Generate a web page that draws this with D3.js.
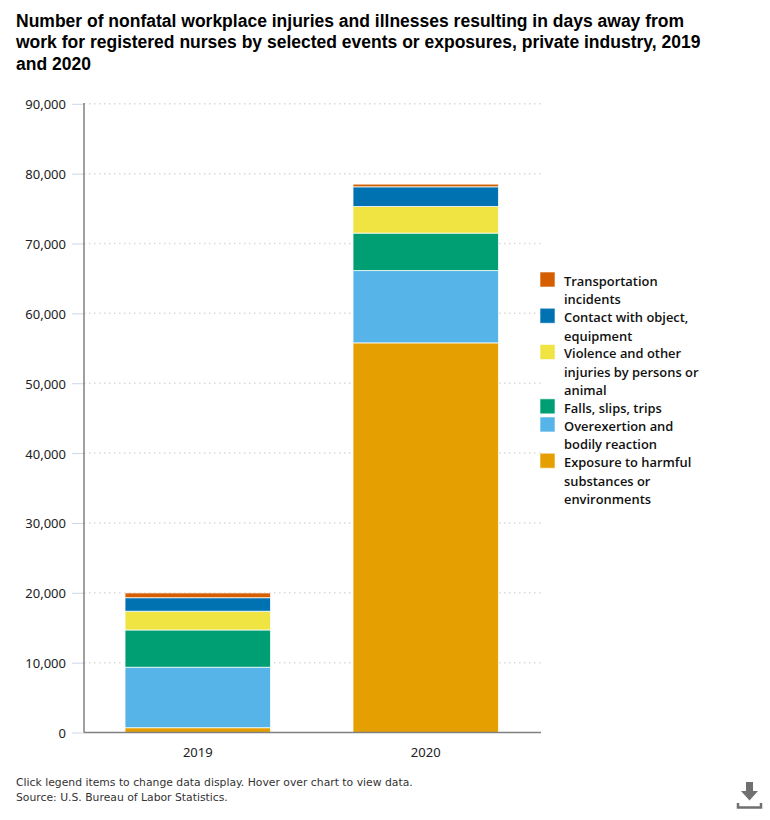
<!DOCTYPE html>
<html>
<head>
<meta charset="utf-8">
<script src="https://cdn.jsdelivr.net/npm/d3@7"></script>
<style>
  html, body { margin: 0; padding: 0; background: #fff; }
  svg { display: block; }
</style>
</head>
<body>
<div id="chart"></div>
<script>
// Dati
const years = ['2019', '2020'];
const seriesNames = [
  'Exposure to harmful substances or environments',
  'Overexertion and bodily reaction',
  'Falls, slips, trips',
  'Violence and other injuries by persons or animal',
  'Contact with object, equipment',
  'Transportation incidents'
];
const exposure = [690, 55780];
const overexertion = [8650, 10350];
const falls = [5340, 5360];
const violence = [2680, 3810];
const contact = [1940, 2820];
const transportation = [680, 380];
const seriesColors = ['#E69F00', '#56B4E9', '#009E73', '#F0E442', '#0072B2', '#D55E00'];
const yTicks = [0, 10000, 20000, 30000, 40000, 50000, 60000, 70000, 80000, 90000];
const titleLines = [
  'Number of nonfatal workplace injuries and illnesses resulting in days away from',
  'work for registered nurses by selected events or exposures, private industry, 2019',
  'and 2020'
];
const footerLines = [
  'Click legend items to change data display. Hover over chart to view data.',
  'Source: U.S. Bureau of Labor Statistics.'
];
// Righe della legenda, dall'alto in basso
const legendLines = [
  ['Transportation', 'incidents'],
  ['Contact with object,', 'equipment'],
  ['Violence and other', 'injuries by persons or', 'animal'],
  ['Falls, slips, trips'],
  ['Overexertion and', 'bodily reaction'],
  ['Exposure to harmful', 'substances or', 'environments']
];

const width = 770, height = 820;
const margin = { top: 103.8, left: 84, right: 229, bottom: 87.5 };
const w = width - margin.left - margin.right;
const h = height - margin.top - margin.bottom;

const svg = d3.select('#chart').append('svg')
  .attr('width', width)
  .attr('height', height);

// Titolo
svg.append('g').selectAll('text')
  .data(titleLines).join('text')
  .attr('x', 16)
  .attr('y', (d, i) => 27 + i * 21.3)
  .attr('fill', '#000')
  .style('font-family', '"Liberation Sans", Arial, sans-serif')
  .style('font-size', '17.5px')
  .style('font-weight', 'bold')
  .text(d => d);

const g = svg.append('g').attr('transform', `translate(${margin.left},${margin.top})`);

// Scale
const x = d3.scaleBand().domain(years).range([0, 455.5]).paddingInner(0.362).paddingOuter(0.18);
const y = d3.scaleLinear().domain([0, 90000]).range([h, 0]);

// Griglia
g.append('g')
  .selectAll('line')
  .data(yTicks.filter(d => d > 0)).join('line')
  .attr('x1', 0).attr('x2', w)
  .attr('y1', d => y(d)).attr('y2', d => y(d))
  .attr('stroke', '#d9d9d9')
  .attr('stroke-width', 1.5)
  .attr('stroke-dasharray', '1.5,3.5');

// Barre impilate
const rows = years.map((year, i) => ({
  year,
  [seriesNames[0]]: exposure[i],
  [seriesNames[1]]: overexertion[i],
  [seriesNames[2]]: falls[i],
  [seriesNames[3]]: violence[i],
  [seriesNames[4]]: contact[i],
  [seriesNames[5]]: transportation[i]
}));
const stacked = d3.stack().keys(seriesNames)(rows);

g.append('g')
  .selectAll('g')
  .data(stacked).join('g')
  .attr('fill', (d, i) => seriesColors[i])
  .selectAll('rect')
  .data(d => d).join('rect')
  .attr('x', d => x(d.data.year))
  .attr('y', d => y(d[1]))
  .attr('width', x.bandwidth())
  .attr('height', d => y(d[0]) - y(d[1]))
  .attr('stroke', '#fff')
  .attr('stroke-opacity', 0.75)
  .attr('stroke-width', 1);

// Asse Y
const yAxis = g.append('g')
  .call(d3.axisLeft(y).tickValues(yTicks).tickFormat(d3.format(',')).tickSize(12).tickPadding(6));
yAxis.select('.domain').remove();
yAxis.selectAll('line').attr('stroke', '#ccd6eb').attr('stroke-width', 1);
yAxis.selectAll('text')
  .attr('fill', '#222')
  .attr('dy', '0.38em')
  .style('font-family', '"Noto Sans", sans-serif')
  .style('font-size', '13px');
g.append('line')
  .attr('x1', 0).attr('x2', 0).attr('y1', -0.8).attr('y2', h)
  .attr('stroke', '#808080').attr('stroke-width', 1.5);

// Asse X
const xAxis = g.append('g')
  .attr('transform', `translate(0,${h})`)
  .call(d3.axisBottom(x).tickSize(0).tickPadding(15));
xAxis.select('.domain').attr('d', `M0,0H${w}`).attr('stroke', '#808080').attr('stroke-width', 1.5);
xAxis.selectAll('text')
  .attr('fill', '#222')
  .style('font-family', '"Noto Sans", sans-serif')
  .style('font-size', '13px');

// Legenda
const legendColors = seriesColors.slice().reverse();
const textLineHeight = 18.4;
const itemLineHeight = 18.12;
let legendY = 272;
legendLines.forEach((lines, i) => {
  const item = svg.append('g').attr('transform', `translate(540,${legendY})`);
  item.append('rect')
    .attr('width', 15).attr('height', 15)
    .attr('fill', legendColors[i])
    .attr('stroke', '#fff').attr('stroke-opacity', 0.6);
  item.selectAll('text')
    .data(lines).join('text')
    .attr('x', 24)
    .attr('y', (d, j) => 14 + j * textLineHeight)
    .attr('fill', '#111')
    .style('font-family', '"Open Sans", sans-serif')
    .style('font-size', '12.9px')
    .style('font-weight', 600)
    .text(d => d);
  legendY += lines.length * itemLineHeight;
});

// Note a piè di pagina
svg.append('g').selectAll('text')
  .data(footerLines).join('text')
  .attr('x', 16)
  .attr('y', (d, i) => 786 + i * 15)
  .attr('fill', '#333')
  .style('font-family', '"DejaVu Sans", Verdana, sans-serif')
  .style('font-size', '10.8px')
  .text(d => d);

// Icona download
const icon = svg.append('g').attr('fill', 'none').attr('stroke', '#707070');
icon.append('path')
  .attr('d', 'M746 782h7v9h5l-8.5 9.5l-8.5-9.5h5z')
  .attr('fill', '#707070').attr('stroke', 'none');
icon.append('path')
  .attr('d', 'M738 803v4.5h23v-4.5')
  .attr('stroke-width', 2.5);
</script>
</body>
</html>
